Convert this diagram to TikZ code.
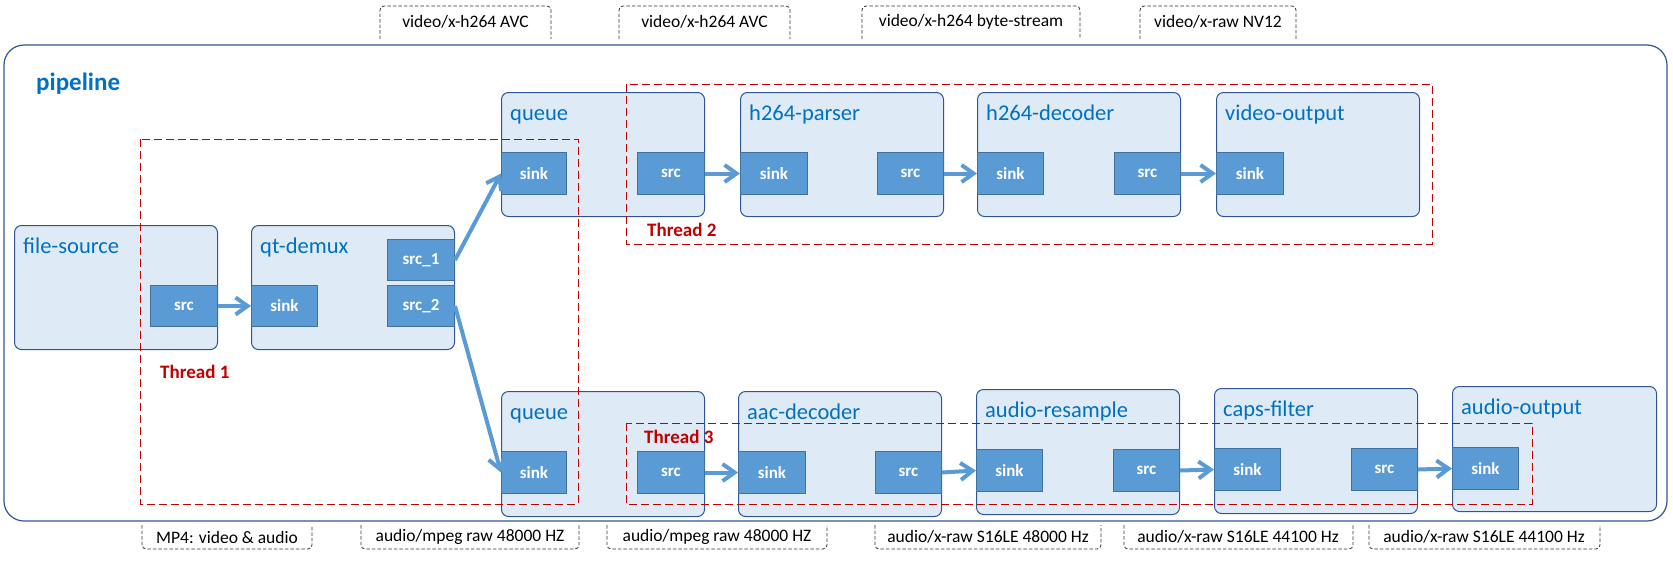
\documentclass[tikz,border=0pt]{standalone}
\usepackage{fontspec}
\setmainfont{Carlito}
\usetikzlibrary{arrows.meta}
\definecolor{boxfill}{HTML}{DEEBF7}
\definecolor{boxdraw}{HTML}{2F5597}
\definecolor{portfill}{HTML}{5B9BD5}
\definecolor{portdraw}{HTML}{41719C}
\definecolor{txtblue}{HTML}{0070C0}
\definecolor{thred}{HTML}{C00000}
\newcommand\pipeElem[6]{%
  \node[elembox, minimum width=#4pt, minimum height=#5pt] (#1) at (#2,#3) {};
  \node[elemlabel] (#1-lab) at ([xshift=9pt,yshift=-28pt]#1.north west) {#6};}
\newcommand\pipePort[6]{%
  \node[portbox, minimum width=#4pt, minimum height=#5pt] (#1) at (#2,#3) {#6};}
\begin{document}
\begin{tikzpicture}[x=1pt,y=-1pt,
  elembox/.style={draw=boxdraw, fill=boxfill, line width=1pt, rounded corners=7pt, anchor=north west, inner sep=0pt},
  elemlabel/.style={anchor=base west, text=txtblue, font=\fontsize{22.5}{26}\selectfont, inner sep=0pt},
  portbox/.style={draw=portdraw, fill=portfill, line width=1pt, anchor=north west, inner sep=0pt, text=white, font=\bfseries\fontsize{17}{20}\selectfont},
  flow/.style={draw=portfill, line width=4pt, -{Straight Barb[length=12pt,width=17pt]}},
  threadbox/.style={draw=thred, dash pattern=on 8pt off 4pt, line width=1pt},
  threadlabel/.style={text=thred, font=\bfseries\fontsize{19}{22}\selectfont, anchor=west, inner sep=0pt},
  capsframe/.style={draw=black!80, dash pattern=on 3.5pt off 2pt, line width=0.8pt, rounded corners=4pt},
  capslabel/.style={font=\fontsize{17.5}{20}\selectfont, inner sep=0pt}
]
\useasboundingbox (0,0) rectangle (1673,560);
% pipeline
\draw[draw=boxdraw, line width=1.2pt, rounded corners=20pt] (4,45) rectangle (1667,521);
\node[anchor=base west, text=txtblue, font=\bfseries\fontsize{25}{29}\selectfont, inner sep=0pt] (pipelab) at (36,90) {pipeline};
% elements
\pipeElem{fs}{14}{225}{203}{124}{file-source}
\pipeElem{qd}{251}{225}{203}{124}{qt-demux}
\pipeElem{qa}{501}{92}{203}{124}{queue}
\pipeElem{hp}{740}{92}{203}{124}{h264-parser}
\pipeElem{hd}{977}{92}{203}{124}{h264-decoder}
\pipeElem{vo}{1216}{92}{203}{124}{video-output}
\pipeElem{qb}{501}{391}{203}{125}{queue}
\pipeElem{ad}{738}{391}{203}{125}{aac-decoder}
\pipeElem{ar}{976}{389}{203}{125}{audio-resample}
\pipeElem{cf}{1214}{388}{203}{125}{caps-filter}
\pipeElem{ao}{1452}{386}{204}{125}{audio-output}
% ports
\pipePort{fssrc}{150}{285}{67}{41}{src}
\pipePort{qdsink}{251}{285}{66}{41}{sink}
\pipePort{qdsrca}{387}{239}{67}{41}{src\_1}
\pipePort{qdsrcb}{387}{285}{67}{41}{src\_2}
\pipePort{qasink}{501}{152}{65}{42}{sink}
\pipePort{qasrc}{637}{152}{67}{42}{src}
\pipePort{hpsink}{740}{152}{67}{42}{sink}
\pipePort{hpsrc}{877}{152}{66}{42}{src}
\pipePort{hdsink}{977}{152}{66}{42}{sink}
\pipePort{hdsrc}{1114}{152}{66}{42}{src}
\pipePort{vosink}{1216}{152}{67}{42}{sink}
\pipePort{qbsink}{501}{451}{65}{42}{sink}
\pipePort{qbsrc}{637}{451}{67}{42}{src}
\pipePort{adsink}{738}{451}{67}{42}{sink}
\pipePort{adsrc}{875}{451}{66}{42}{src}
\pipePort{arsink}{976}{449}{66}{42}{sink}
\pipePort{arsrc}{1113}{449}{66}{42}{src}
\pipePort{cfsink}{1214}{448}{66}{42}{sink}
\pipePort{cfsrc}{1351}{448}{66}{42}{src}
\pipePort{aosink}{1452}{447}{66}{42}{sink}
% threads
\draw[threadbox] (140,139) rectangle (578,504);
\draw[threadbox] (626,84) rectangle (1432,244);
\draw[threadbox] (626,423) rectangle (1532,504);
\node[threadlabel] (t1) at (160,372) {Thread 1};
\node[threadlabel] (t2) at (647,230) {Thread 2};
\node[threadlabel] (t3) at (644,437) {Thread 3};
% flows
\draw[flow] (fssrc.east) -- (qdsink.west);
\draw[flow] (qdsrca.east) -- (qasink.west);
\draw[flow] (qdsrcb.east) -- (qbsink.west);
\draw[flow] (qasrc.east) -- (hpsink.west);
\draw[flow] (hpsrc.east) -- (hdsink.west);
\draw[flow] (hdsrc.east) -- (vosink.west);
\draw[flow] (qbsrc.east) -- (adsink.west);
\draw[flow] (adsrc.east) -- (arsink.west);
\draw[flow] (arsrc.east) -- (cfsink.west);
\draw[flow] (cfsrc.east) -- (aosink.west);
% caps labels top
\draw[capsframe] (380,39) -- (380,6) -- (551,6) -- (551,39);
\node[capslabel] (c1) at (465.5,22) {video/x-h264 AVC};
\draw[capsframe] (619,39) -- (619,6) -- (790,6) -- (790,39);
\node[capslabel] (c2) at (704.5,22) {video/x-h264 AVC};
\draw[capsframe] (862,39) -- (862,6) -- (1080,6) -- (1080,39);
\node[capslabel] (c3) at (971,22) {video/x-h264 byte-stream};
\draw[capsframe] (1140,39) -- (1140,6) -- (1296,6) -- (1296,39);
\node[capslabel] (c4) at (1218,22) {video/x-raw NV12};
% caps labels bottom
\draw[capsframe] (142,525) -- (142,549) -- (312,549) -- (312,525);
\node[capslabel] (b1) at (227,537) {MP4: video \& audio};
\draw[capsframe] (361,525) -- (361,549) -- (579,549) -- (579,525);
\node[capslabel] (b2) at (470,537) {audio/mpeg raw 48000 HZ};
\draw[capsframe] (607,525) -- (607,549) -- (827,549) -- (827,525);
\node[capslabel] (b3) at (717,537) {audio/mpeg raw 48000 HZ};
\draw[capsframe] (875,525) -- (875,549) -- (1101,549) -- (1101,525);
\node[capslabel] (b4) at (988,537) {audio/x-raw S16LE 48000 Hz};
\draw[capsframe] (1124,525) -- (1124,549) -- (1353,549) -- (1353,525);
\node[capslabel] (b5) at (1238,537) {audio/x-raw S16LE 44100 Hz};
\draw[capsframe] (1369,525) -- (1369,549) -- (1600,549) -- (1600,525);
\node[capslabel] (b6) at (1484,537) {audio/x-raw S16LE 44100 Hz};
\end{tikzpicture}
\end{document}
